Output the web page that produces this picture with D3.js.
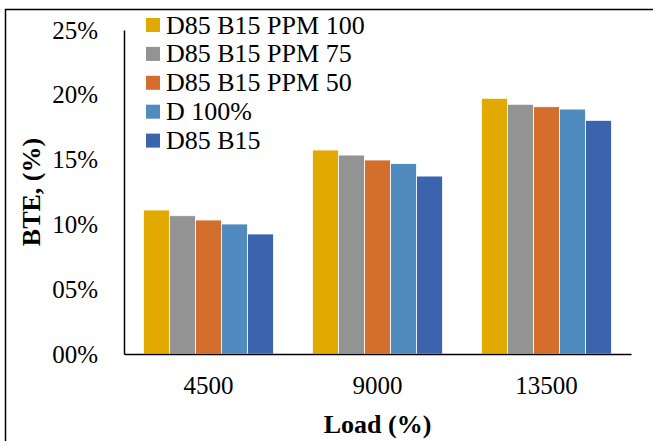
<!DOCTYPE html>
<html>
<head>
<meta charset="utf-8">
<script src="https://cdn.jsdelivr.net/npm/d3@7"></script>
<style>
  body { margin: 0; background: #fff; }
  text { font-family: "Liberation Serif", "Times New Roman", serif; fill: #000; }
</style>
</head>
<body>
<div id="chart"></div>
<script>
// Chart data
const loads = ["4500", "9000", "13500"];
const seriesNames = ["D85 B15 PPM 100", "D85 B15 PPM 75", "D85 B15 PPM 50", "D 100%", "D85 B15"];
const seriesColors = ["#E2AA00", "#939393", "#D46E2C", "#4F8BBE", "#3C63AD"];
const ppm100 = [0.1111, 0.1574, 0.1973];
const ppm75 = [0.1067, 0.1535, 0.1927];
const ppm50 = [0.1034, 0.1497, 0.1908];
const d100 = [0.1003, 0.1469, 0.1890];
const d85b15 = [0.0926, 0.1373, 0.1803];
const yTicks = [0, 0.05, 0.10, 0.15, 0.20, 0.25];

const seriesValues = [ppm100, ppm75, ppm50, d100, d85b15];

const W = 653, H = 441;
const margin = { top: 30, right: 22, bottom: 87, left: 124 };
const width = W - margin.left - margin.right;
const height = H - margin.top - margin.bottom;

const svg = d3.select("#chart")
  .append("svg")
  .attr("width", W)
  .attr("height", H);

// Outer border (cropped on the right and bottom in the original)
svg.append("rect")
  .attr("x", 5.5)
  .attr("y", 9.5)
  .attr("width", W + 10)
  .attr("height", H + 10)
  .attr("fill", "none")
  .attr("stroke", "#000")
  .attr("stroke-width", 1.5);

const g = svg.append("g")
  .attr("transform", `translate(${margin.left},${margin.top})`);

const x = d3.scaleBand()
  .domain(loads)
  .range([0, width])
  .paddingInner(0.23)
  .paddingOuter(0.115);

const xInner = d3.scaleBand()
  .domain(seriesNames)
  .range([0, x.bandwidth()]);

const y = d3.scaleLinear()
  .domain([0, 0.25])
  .range([height, 0]);

// Bars
seriesNames.forEach((name, si) => {
  g.selectAll(`rect.s${si}`)
    .data(seriesValues[si])
    .join("rect")
    .attr("class", `s${si}`)
    .attr("x", (d, i) => x(loads[i]) + xInner(name))
    .attr("y", d => y(d))
    .attr("width", xInner.bandwidth())
    .attr("height", d => height - y(d))
    .attr("fill", seriesColors[si])
    .attr("stroke", "#fff")
    .attr("stroke-width", 0.8);
});

// Y axis
const yAxis = g.append("g")
  .call(d3.axisLeft(y)
    .tickValues(yTicks)
    .tickSize(0)
    .tickPadding(26)
    .tickFormat(d => String(Math.round(d * 100)).padStart(2, "0") + "%"));
yAxis.select(".domain").attr("stroke", "#000").attr("stroke-width", 1.5);
yAxis.selectAll("text")
  .attr("font-size", 25)
  .attr("font-family", "Liberation Serif")
  .attr("fill", "#000");

// X axis
const xAxis = g.append("g")
  .attr("transform", `translate(0,${height})`)
  .call(d3.axisBottom(x).tickSize(0).tickPadding(22));
xAxis.select(".domain").attr("stroke", "#000").attr("stroke-width", 1.5);
xAxis.selectAll("text")
  .attr("font-size", 25)
  .attr("font-family", "Liberation Serif")
  .attr("fill", "#000");

// Axis titles
svg.append("text")
  .attr("x", margin.left + width / 2)
  .attr("y", 433)
  .attr("text-anchor", "middle")
  .attr("font-size", 26)
  .attr("font-weight", "bold")
  .text("Load (%)");

svg.append("text")
  .attr("transform", `translate(40,${margin.top + height / 2}) rotate(-90)`)
  .attr("text-anchor", "middle")
  .attr("font-size", 26)
  .attr("font-weight", "bold")
  .text("BTE, (%)");

// Legend
const legendY = d3.scaleLinear().domain([0, 4]).range([25, 140.6]);
const legend = svg.append("g");
seriesNames.forEach((name, i) => {
  legend.append("rect")
    .attr("x", 146)
    .attr("y", legendY(i) - 7)
    .attr("width", 14)
    .attr("height", 14)
    .attr("fill", seriesColors[i]);
  legend.append("text")
    .attr("x", 166)
    .attr("y", legendY(i) + 8.5)
    .attr("font-size", 26)
    .text(name);
});
</script>
</body>
</html>
